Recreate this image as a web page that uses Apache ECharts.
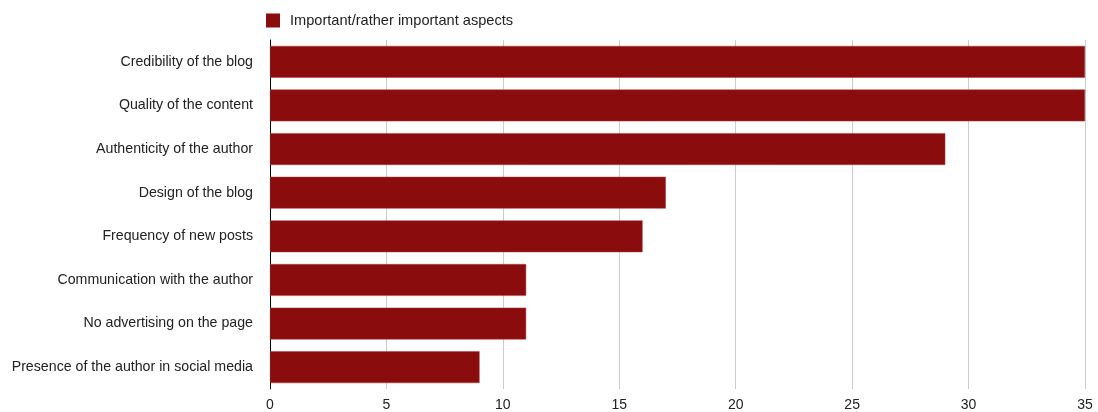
<!DOCTYPE html>
<html><head><meta charset="utf-8">
<script src="https://cdn.jsdelivr.net/npm/echarts@6/dist/echarts.min.js"></script>
<style>html,body{margin:0;padding:0;background:#fff}#c{width:1098px;height:412px}</style>
</head><body><div id="c"></div>
<script>
const categories = ["Credibility of the blog","Quality of the content","Authenticity of the author","Design of the blog","Frequency of new posts","Communication with the author","No advertising on the page","Presence of the author in social media"];
const values = [35,35,29,17,16,11,11,9];
const seriesName = "Important/rather important aspects";
const xTicks = [0,5,10,15,20,25,30,35];
const chart = echarts.init(document.getElementById('c'));
chart.setOption({
  animation:false,
  textStyle:{fontFamily:'Liberation Sans, Arial, sans-serif'},
  legend:{left:261,top:8,itemWidth:14,itemHeight:14,itemGap:10,icon:'rect',
    itemStyle:{borderWidth:0},
    textStyle:{fontSize:14.6,color:'#222',padding:[0,0,0,5]},data:[seriesName]},
  grid:{left:270,right:13,top:40,bottom:22,containLabel:false},
  xAxis:{type:'value',min:xTicks[0],max:xTicks[xTicks.length-1],interval:5,
    axisLine:{show:false},axisTick:{show:false},
    splitLine:{lineStyle:{color:'#cccccc',width:1}},
    axisLabel:{fontSize:14,color:'#222',margin:9}},
  yAxis:{type:'category',inverse:true,data:categories,
    axisLine:{show:true,lineStyle:{color:'#000',width:1}},axisTick:{show:false},
    axisLabel:{fontSize:14.2,color:'#222',margin:17}},
  series:[{name:seriesName,type:'bar',data:values,barCategoryGap:'27%',
    itemStyle:{color:'#8b0c0c',borderColor:'#a84040',borderWidth:0.5}}]
});
</script></body></html>
